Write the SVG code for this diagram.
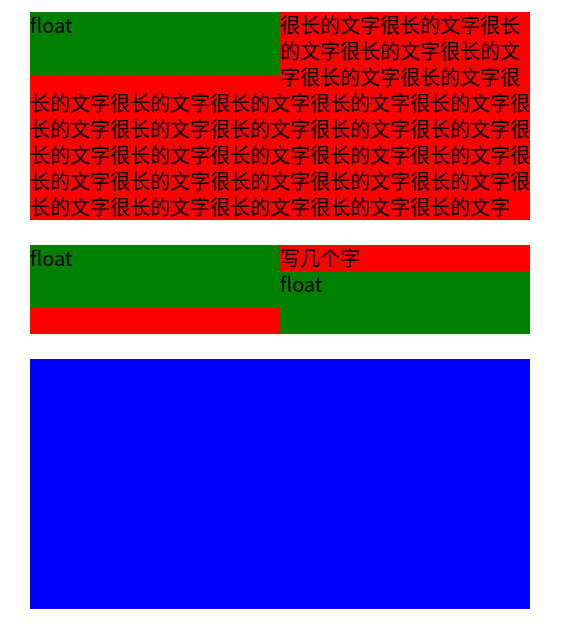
<svg xmlns="http://www.w3.org/2000/svg" width="577" height="629" viewBox="0 0 577 629">
<style>
.red{fill:#ff0000}
.green{fill:#008000}
.blue{fill:#0000ff}
text{font-family:"Noto Sans CJK SC","Noto Sans",sans-serif;font-size:20px;fill:#000}
</style>
<rect width="577" height="629" fill="#fff"/>
<g id="block1">
<rect class="red" x="30" y="12" width="500" height="208"/>
<g id="float1">
<rect class="green" x="30" y="12" width="250" height="63"/>
<text x="30" y="33">float</text>
</g>
<g id="text1">
<text x="280" y="33" textLength="240" lengthAdjust="spacingAndGlyphs">很长的文字很长的文字很长</text>
<text x="280" y="59" textLength="240" lengthAdjust="spacingAndGlyphs">的文字很长的文字很长的文</text>
<text x="280" y="85" textLength="240" lengthAdjust="spacingAndGlyphs">字很长的文字很长的文字很</text>
<text x="30" y="111" textLength="500" lengthAdjust="spacingAndGlyphs">长的文字很长的文字很长的文字很长的文字很长的文字很</text>
<text x="30" y="137" textLength="500" lengthAdjust="spacingAndGlyphs">长的文字很长的文字很长的文字很长的文字很长的文字很</text>
<text x="30" y="163" textLength="500" lengthAdjust="spacingAndGlyphs">长的文字很长的文字很长的文字很长的文字很长的文字很</text>
<text x="30" y="189" textLength="500" lengthAdjust="spacingAndGlyphs">长的文字很长的文字很长的文字很长的文字很长的文字很</text>
<text x="30" y="215" textLength="480" lengthAdjust="spacingAndGlyphs">长的文字很长的文字很长的文字很长的文字很长的文字</text>
</g>
</g>
<g id="block2">
<rect class="red" x="30" y="245" width="500" height="89"/>
<g id="float2">
<rect class="green" x="30" y="245" width="250" height="63"/>
<text x="30" y="266">float</text>
</g>
<text x="280" y="266" textLength="80" lengthAdjust="spacingAndGlyphs">写几个字</text>
<g id="float3">
<rect class="green" x="280" y="271" width="250" height="63"/>
<text x="280" y="292">float</text>
</g>
</g>
<g id="block3">
<rect class="blue" x="30" y="359" width="500" height="250"/>
</g>
</svg>
